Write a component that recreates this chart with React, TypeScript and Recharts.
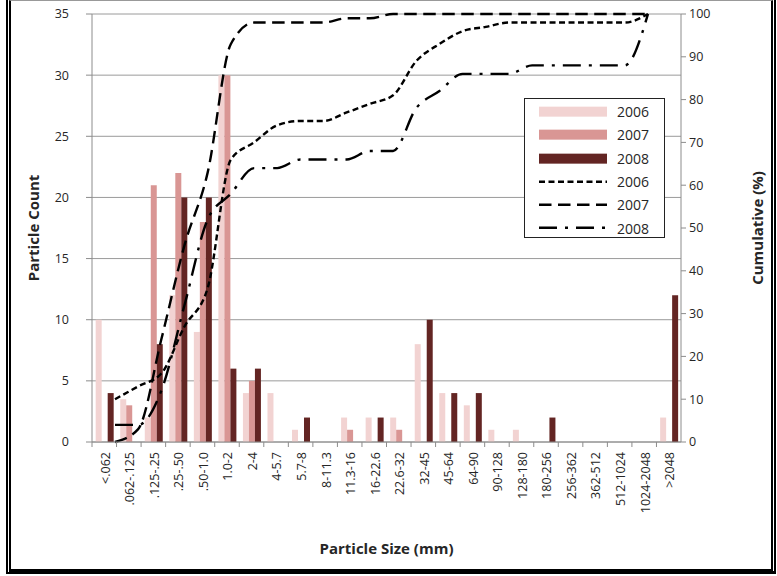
import { ComposedChart, Bar, Line, XAxis, YAxis, CartesianGrid, Legend } from 'recharts'

const FONT = '"Open Sans", "Liberation Sans", sans-serif'

// size classes (mm)
const sizeClasses = [
  '<.062', '.062-.125', '.125-.25', '.25-.50', '.50-1.0', '1.0-2', '2-4', '4-5.7',
  '5.7-8', '8-11.3', '11.3-16', '16-22.6', '22.6-32', '32-45', '45-64', '64-90',
  '90-128', '128-180', '180-256', '256-362', '362-512', '512-1024', '1024-2048', '>2048'
]

// particle counts per class
const count2006 = [10, 3.5, 2, 12, 9, 30, 4, 4, 1, 0, 2, 2, 2, 8, 4, 3, 1, 1, 0, 0, 0, 0, 0, 2]
const count2007 = [0, 3, 21, 22, 18, 30, 5, 0, 0, 0, 1, 0, 1, 0, 0, 0, 0, 0, 0, 0, 0, 0, 0, 0]
const count2008 = [4, 0, 8, 20, 20, 6, 6, 0, 2, 0, 0, 2, 0, 10, 4, 4, 0, 0, 2, 0, 0, 0, 0, 12]

// cumulative percent
const cum2006 = [10, 13, 16, 27, 36, 66, 70, 74, 75, 75, 77, 79, 81, 89, 93, 96, 97, 98, 98, 98, 98, 98, 98, 100]
const cum2007 = [0, 3, 24, 46, 63, 93, 98, 98, 98, 98, 99, 99, 100, 100, 100, 100, 100, 100, 100, 100, 100, 100, 100, 100]
const cum2008 = [4, 4, 12, 32, 52, 58, 64, 64, 66, 66, 66, 68, 68, 78, 82, 86, 86, 86, 88, 88, 88, 88, 88, 100]

const countTicks = [0, 5, 10, 15, 20, 25, 30, 35]
const cumTicks = [0, 10, 20, 30, 40, 50, 60, 70, 80, 90, 100]

const barSeries = [
  { key: 'c2006', name: '2006', color: '#F2D3D2' },
  { key: 'c2007', name: '2007', color: '#D99694' },
  { key: 'c2008', name: '2008', color: '#632523' }
]

const lineSeries = [
  { key: 'cum2006', name: '2006', dash: '6 3.5' },
  { key: 'cum2007', name: '2007', dash: '12.5 6.5' },
  { key: 'cum2008', name: '2008', dash: '18 8 3 8' }
]

const chartData = sizeClasses.map((label, i) => ({
  label,
  pos: i,
  c2006: count2006[i],
  c2007: count2007[i],
  c2008: count2008[i],
  cum2006: cum2006[i],
  cum2007: cum2007[i],
  cum2008: cum2008[i]
}))

const W = 777
const H = 576
const LEFT_W = 92
const RIGHT_W = 96
const TOP = 14
const X_AXIS_H = 134
const PLOT_W = W - LEFT_W - RIGHT_W
const PLOT_BOTTOM = H - X_AXIS_H
const AXIS_GRAY = '#8c8c8c'
const TEXT = '#262626'

function SizeTick(props: any) {
  const { x, payload } = props
  const half = PLOT_W / sizeClasses.length / 2
  return (
    <g>
      <line x1={x - half} x2={x - half} y1={PLOT_BOTTOM} y2={PLOT_BOTTOM + 5} stroke={AXIS_GRAY} />
      <text
        transform={`translate(${x + 1}, ${PLOT_BOTTOM + 10}) rotate(-90)`}
        textAnchor="end"
        dy="0.35em"
        fontSize={12.5}
        fontFamily={FONT}
        fill={TEXT}
      >
        {payload.value}
      </text>
    </g>
  )
}

function VTitle(props: any) {
  const { viewBox, text, dx } = props
  const cx = viewBox.x + dx
  const cy = viewBox.y + viewBox.height / 2
  return (
    <text
      x={cx}
      y={cy}
      transform={`rotate(-90, ${cx}, ${cy})`}
      textAnchor="middle"
      dominantBaseline="central"
      fontSize={15}
      fontWeight="bold"
      fontFamily={FONT}
      fill={TEXT}
    >
      {text}
    </text>
  )
}

function LegendBox() {
  const rowH = 23.3
  return (
    <div
      style={{
        width: 139,
        height: 137,
        border: '1.5px solid #222',
        background: '#fff',
        paddingTop: 1,
        fontFamily: FONT,
        fontSize: 14,
        color: TEXT
      }}
    >
      {barSeries.map(s => (
        <div key={s.key} style={{ height: rowH, display: 'flex', alignItems: 'center' }}>
          <svg width={92} height={rowH}>
            <rect x={14} y={rowH / 2 - 5} width={68} height={10} fill={s.color} />
          </svg>
          <span>{s.name}</span>
        </div>
      ))}
      {lineSeries.map(s => (
        <div key={s.key} style={{ height: rowH, display: 'flex', alignItems: 'center' }}>
          <svg width={92} height={rowH}>
            <line x1={14} x2={82} y1={rowH / 2} y2={rowH / 2} stroke="#000" strokeWidth={2.5} strokeDasharray={s.dash} />
          </svg>
          <span>{s.name}</span>
        </div>
      ))}
    </div>
  )
}

export default function App() {
  return (
    <div style={{ position: 'absolute', left: 0, top: 0, width: W, height: H, background: '#fff' }}>
      <ComposedChart
        width={W}
        height={H}
        data={chartData}
        margin={{ top: TOP, right: 0, bottom: 0, left: 0 }}
        barCategoryGap="15%"
        barGap={0}
      >
        <CartesianGrid yAxisId="left" xAxisId="cat" vertical={false} stroke="#9a9a9a" />
        <XAxis
          xAxisId="cat"
          dataKey="label"
          height={X_AXIS_H}
          interval={0}
          tickLine={false}
          axisLine={{ stroke: AXIS_GRAY }}
          tick={<SizeTick />}
          label={{
            value: 'Particle Size (mm)',
            position: 'insideBottom',
            offset: 22,
            fontSize: 15,
            fontWeight: 'bold',
            fontFamily: FONT,
            fill: TEXT
          }}
        />
        <XAxis xAxisId="line" dataKey="pos" type="number" hide domain={[-0.9925, 24.424]} allowDataOverflow />
        <YAxis
          yAxisId="left"
          width={LEFT_W}
          domain={[0, 35]}
          ticks={countTicks}
          interval={0}
          tickSize={6}
          tickMargin={17}
          axisLine={{ stroke: AXIS_GRAY }}
          tickLine={{ stroke: AXIS_GRAY }}
          tick={{ fontSize: 12.5, fontFamily: FONT, fill: TEXT }}
          label={<VTitle text="Particle Count" dx={33} />}
        />
        <YAxis
          yAxisId="right"
          orientation="right"
          width={RIGHT_W}
          domain={[0, 100]}
          ticks={cumTicks}
          interval={0}
          tickSize={5}
          tickMargin={3}
          axisLine={{ stroke: AXIS_GRAY }}
          tickLine={{ stroke: AXIS_GRAY }}
          tick={{ fontSize: 12.5, fontFamily: FONT, fill: TEXT }}
          label={<VTitle text="Cumulative (%)" dx={76} />}
        />
        {barSeries.map(s => (
          <Bar
            key={s.key}
            xAxisId="cat"
            yAxisId="left"
            dataKey={s.key}
            name={s.name}
            fill={s.color}
            isAnimationActive={false}
          />
        ))}
        {lineSeries.map(s => (
          <Line
            key={s.key}
            xAxisId="line"
            yAxisId="right"
            type="monotone"
            dataKey={s.key}
            name={s.name}
            stroke="#000"
            strokeWidth={2.4}
            strokeDasharray={s.dash}
            dot={false}
            activeDot={false}
            isAnimationActive={false}
          />
        ))}
        <Legend
          layout="vertical"
          align="center"
          verticalAlign="middle"
          wrapperStyle={{ left: 524, top: 98, width: 142 }}
          content={() => <LegendBox />}
        />
      </ComposedChart>
      {/* frame around the figure */}
      <div
        style={{
          position: 'absolute',
          left: 6,
          top: -1,
          width: 760,
          height: 568,
          borderLeft: '5px double #000',
          borderRight: '5px double #000',
          borderBottom: '5px solid #000',
          borderTop: '2px solid #999',
          pointerEvents: 'none'
        }}
      />
    </div>
  )
}
